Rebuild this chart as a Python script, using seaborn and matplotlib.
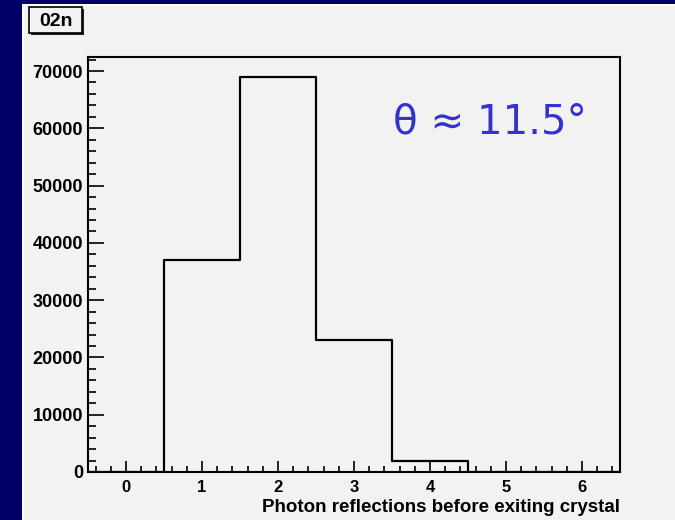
import matplotlib
matplotlib.use("Agg")
import matplotlib.pyplot as plt
from matplotlib.patches import Rectangle
from matplotlib.ticker import FixedLocator, MultipleLocator
import seaborn as sns
import numpy as np

# Data
bin_centers = [0, 1, 2, 3, 4, 5, 6]
counts = [0, 37000, 69000, 23000, 2000, 0, 0]
bin_edges = [-0.5, 0.5, 1.5, 2.5, 3.5, 4.5, 5.5, 6.5]
x_ticks = [0, 1, 2, 3, 4, 5, 6]
y_ticks = [0, 10000, 20000, 30000, 40000, 50000, 60000, 70000]
y_tick_labels = ["0", "10000", "20000", "30000", "40000", "50000", "60000", "70000"]
x_label = "Photon reflections before exiting crystal"
title_box = "02n"
annotation = "θ ≈ 11.5°"

W, H = 675, 520
fig = plt.figure(figsize=(W / 100, H / 100), dpi=100)
fig.patch.set_facecolor("#000066")

# panel
fig.patches.append(Rectangle((22 / W, 0), 1, (H - 4) / H, transform=fig.transFigure,
                             facecolor="white", edgecolor="none", zorder=-10))
fig.patches.append(Rectangle((24 / W, 0), 1, (H - 6) / H, transform=fig.transFigure,
                             facecolor="#f2f2f2", edgecolor="none", zorder=-9))

ax = fig.add_axes([88 / W, (H - 472) / H, (620 - 88) / W, (472 - 57) / H])
ax.set_facecolor("#f2f2f2")

sns.histplot(x=bin_centers, weights=counts, bins=bin_edges, element="step",
             fill=False, color="black", linewidth=1.6, ax=ax)

ax.set_xlim(-0.5, 6.5)
ax.set_ylim(0, 72450)
ax.set_ylabel("")
for s in ax.spines.values():
    s.set_linewidth(1.5)
    s.set_color("black")

ax.xaxis.set_major_locator(FixedLocator(x_ticks))
ax.xaxis.set_minor_locator(MultipleLocator(0.2))
ax.yaxis.set_major_locator(FixedLocator(y_ticks))
ax.yaxis.set_minor_locator(MultipleLocator(2000))
ax.set_yticklabels(y_tick_labels)

ax.tick_params(axis="x", which="major", direction="in", length=8, width=1.2, pad=5.5)
ax.tick_params(axis="x", which="minor", direction="in", length=4.3, width=1.2)
ax.tick_params(axis="y", which="major", direction="in", length=11.5, width=1.2, pad=3.5)
ax.tick_params(axis="y", which="minor", direction="in", length=5.8, width=1.2)
for lab in ax.get_xticklabels():
    lab.set_fontfamily("Liberation Sans")
    lab.set_fontweight("bold")
    lab.set_fontsize(12)
for lab in ax.get_yticklabels():
    lab.set_fontfamily("Liberation Sans")
    lab.set_fontweight("bold")
    lab.set_fontsize(13)

ax.set_xlabel(x_label, loc="right", fontfamily="Liberation Sans", fontweight="bold",
              fontsize=13.5)
ax.xaxis.set_label_coords(1.0, -(499 - 472) / 415)

# title box
fig.text(55.5 / W, 1 - 21 / H, title_box, ha="center", va="center",
         fontfamily="Liberation Sans", fontweight="bold", fontsize=14, color="black",
         zorder=5)
fig.patches.append(Rectangle((31 / W, 1 - 35 / H), 53 / W, 26 / H, transform=fig.transFigure,
                             facecolor="#222222", edgecolor="none", zorder=1))
fig.patches.append(Rectangle((29 / W, 1 - 33 / H), 53 / W, 26 / H, transform=fig.transFigure,
                             facecolor="#f2f2f2", edgecolor="black", linewidth=1.2, zorder=2))

fig.text(490 / W, 1 - 122 / H, annotation, ha="center",
         va="center", fontfamily="DejaVu Sans", fontsize=29, color="#3333cc", zorder=5)

fig.savefig("out.png", dpi=100, facecolor=fig.get_facecolor())
